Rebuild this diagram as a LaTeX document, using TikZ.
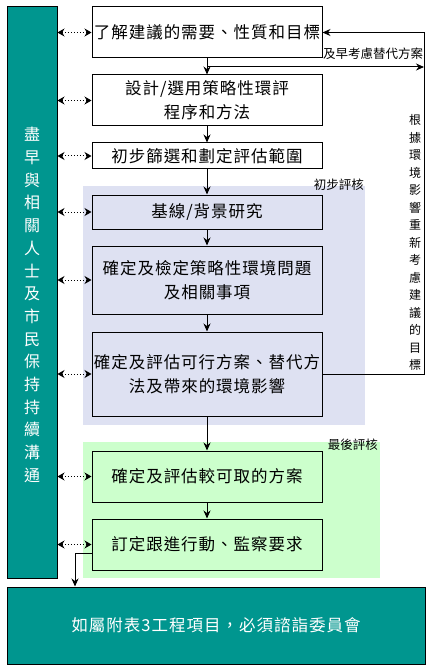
\documentclass[tikz,border=0pt]{standalone}
\usepackage{fontspec}
\setmainfont{Noto Sans CJK TC}
\newfontfamily\boxfont[LetterSpace=6]{Noto Sans CJK TC}
\usetikzlibrary{arrows.meta,calc}
\definecolor{teal1}{RGB}{0,150,143}
\definecolor{lav}{RGB}{222,225,242}
\definecolor{mint}{RGB}{204,255,204}
\begin{document}
\begin{tikzpicture}[x=1pt,y=-1pt,
  stepbox/.style={draw=black,line width=1pt,minimum width=230pt,align=center,inner sep=0pt,
    font=\boxfont\fontsize{16.5}{24}\selectfont},
  arr/.style={draw=black,line width=1pt,-{Stealth[length=8pt,width=7pt]}},
  dbl/.style={draw=black,line width=1pt,dotted,{Stealth[length=7pt,width=8pt]}-{Stealth[length=7pt,width=8pt]}},
  smalllbl/.style={inner sep=0pt,font=\fontsize{12.5}{15}\selectfont}]
\useasboundingbox (0,0) rectangle (432,671);
\fill[white] (0,0) rectangle (432,671);
% background regions
\fill[lav] (83,186) rectangle (365,425);
\fill[mint] (83,442) rectangle (380,578);
\node[smalllbl,anchor=east] (lbl1) at (364,185) {初步評核};
\node[smalllbl,anchor=east] (lbl2) at (378,444.5) {最後評核};
% left bar
\node[draw=black,line width=1pt,fill=teal1,minimum width=50pt,minimum height=571pt,inner sep=0pt] (bar) at (32,292.5) {};
\node[text=white,align=center,inner sep=0pt,font=\fontsize{16}{22.7}\selectfont] (bartxt) at (32,305)
  {盡\\早\\與\\相\\關\\人\\士\\及\\市\\民\\保\\持\\持\\續\\溝\\通};
% steps
\node[stepbox,minimum height=51pt] (b1) at (207,32.5) {了解建議的需要、性質和目標};
\node[stepbox,minimum height=51pt] (b2) at (207,100.5) {設計/選用策略性環評\\程序和方法};
\node[stepbox,minimum height=26pt] (b3) at (207,156) {初步篩選和劃定評估範圍};
\node[stepbox,minimum height=34pt] (b4) at (207,212) {基線/背景研究};
\node[stepbox,minimum height=68pt] (b5) at (207,280) {確定及檢定策略性環境問題\\及相關事項};
\node[stepbox,minimum height=84pt] (b6) at (207,374) {確定及評估可行方案、替代方\\法及帶來的環境影響};
\node[stepbox,minimum height=51pt] (b7) at (207,476.5) {確定及評估較可取的方案};
\node[stepbox,minimum height=51pt] (b8) at (207,544.5) {訂定跟進行動、監察要求};
% bottom box
\node[draw=black,line width=1pt,fill=teal1,minimum width=418pt,minimum height=77pt,inner sep=0pt,
  text=white,font=\boxfont\fontsize{16.5}{20}\selectfont] (bot) at (216,625.5) {如屬附表3工程項目，必須諮詣委員會};
% vertical flow
\draw[arr] (b1) -- (b2);
\draw[arr] (b2) -- (b3);
\draw[arr] (b3) -- (b4);
\draw[arr] (b4) -- (b5);
\draw[arr] (b5) -- (b6);
\draw[arr] (b6) -- (b7);
\draw[arr] (b7) -- (b8);
% feedback loop
\draw[arr] (b6.east) -- ++(102,0) |- (b1.east);
\coordinate (e1) at (207,67);
\coordinate (e2) at (424,67);
\draw[arr] (e1) -- (e2);
\node[smalllbl] (early) at (373,54) {及早考慮替代方案};
\node[align=center,inner sep=0pt,font=\fontsize{12}{17.5}\selectfont] (fbtxt) at (415,242.5)
  {根\\據\\環\\境\\影\\響\\重\\新\\考\\慮\\建\\議\\的\\目\\標};
% communication arrows
\foreach \b in {b1,b2,b3,b4,b5,b6,b7,b8}{
  \draw[dbl] (\b.west -| bar.east) -- (\b.west);
}
% to bottom
\coordinate (k) at (75,0);
\draw[arr] ([yshift=-8.5pt]b8.west) -| (k |- bot.north);
\end{tikzpicture}
\end{document}
